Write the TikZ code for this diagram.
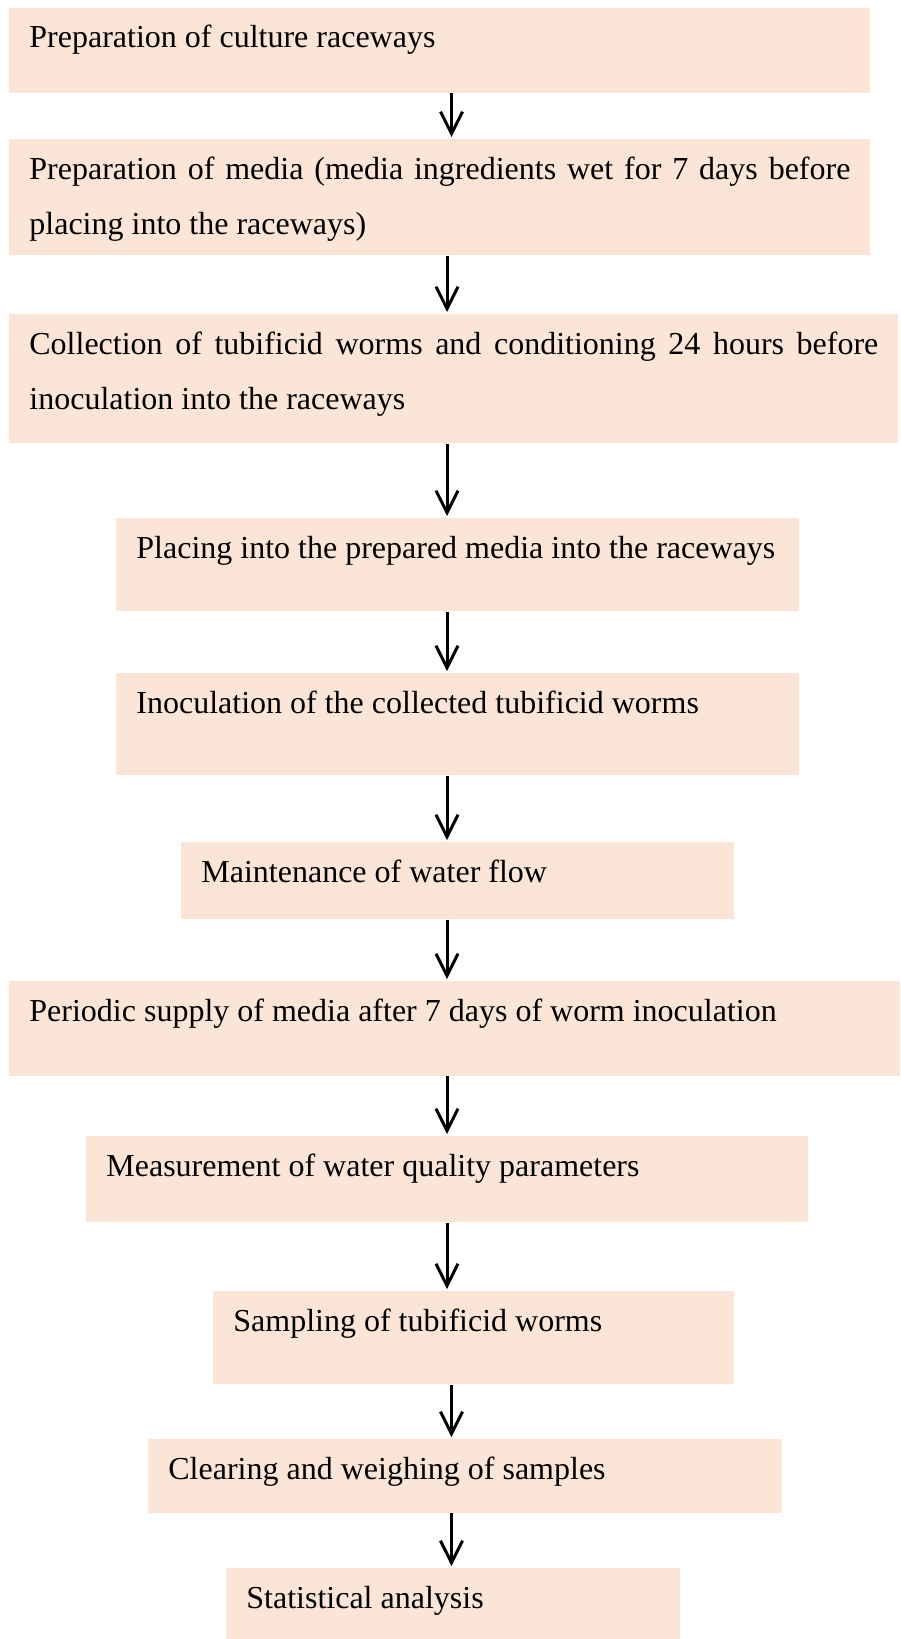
\documentclass[tikz,border=0pt]{standalone}
\usepackage{fontspec}
\setmainfont{Liberation Serif}
\usetikzlibrary{arrows.meta}
\definecolor{PeachFill}{HTML}{FBE5D6}
\tolerance=2000
\hyphenpenalty=10000
\exhyphenpenalty=10000

\begin{document}
\begin{tikzpicture}[
    x=0.5pt,y=-0.5pt,
    stage/.style={fill=PeachFill,anchor=north west,align=justify,
      inner xsep=10pt,inner ysep=0pt,text height=20pt,
      font={\fontsize{16}{27.5}\selectfont\hyphenpenalty=10000\relax}},
    flow/.style={-{Straight Barb[length=11pt,width=11pt]},line width=1.5pt,
      shorten >=1pt}
  ]
  \useasboundingbox (0,0) rectangle (900,1639);
  \coordinate (spine) at (447,0);
  \coordinate (spineR) at (451.5,0);

  \node[stage,text width=410.5pt,text depth=22.5pt] (raceways) at (9,7.5)
    {Preparation of culture raceways};
  \node[stage,text width=410.5pt,text depth=38pt] (media) at (9,139)
    {Preparation of media (media ingredients wet for 7 days before placing into the raceways)};
  \node[stage,text width=424.5pt,text depth=44.5pt] (collection) at (9,314)
    {Collection of tubificid worms and conditioning 24 hours before inoculation into the raceways};
  \node[stage,text width=321.5pt,text depth=26.5pt] (placing) at (116,518)
    {Placing into the prepared media into the raceways};
  \node[stage,text width=321.5pt,text depth=31pt] (inoculation) at (116,673)
    {Inoculation of the collected tubificid worms};
  \node[stage,text width=256.5pt,text depth=18.5pt] (waterflow) at (181,842)
    {Maintenance of water flow};
  \node[stage,text width=425.5pt,text depth=27.25pt] (supply) at (9,981)
    {Periodic supply of media after 7 days of worm inoculation};
  \node[stage,text width=341pt,text depth=23pt] (quality) at (86,1136)
    {Measurement of water quality parameters};
  \node[stage,text width=240.5pt,text depth=26.5pt] (sampling) at (213,1291)
    {Sampling of tubificid worms};
  \node[stage,text width=297pt,text depth=16.75pt] (weighing) at (148,1439)
    {Clearing and weighing of samples};
  \node[stage,text width=207pt,text depth=15.5pt] (analysis) at (226,1568)
    {Statistical analysis};

  \draw[flow] (raceways.south -| spineR) -- (media.north -| spineR);
  \draw[flow] (media.south -| spine) -- (collection.north -| spine);
  \draw[flow] (collection.south -| spine) -- (placing.north -| spine);
  \draw[flow] (placing.south -| spine) -- (inoculation.north -| spine);
  \draw[flow] (inoculation.south -| spine) -- (waterflow.north -| spine);
  \draw[flow] (waterflow.south -| spine) -- (supply.north -| spine);
  \draw[flow] (supply.south -| spine) -- (quality.north -| spine);
  \draw[flow] (quality.south -| spine) -- (sampling.north -| spine);
  \draw[flow] (sampling.south -| spineR) -- (weighing.north -| spineR);
  \draw[flow] (weighing.south -| spineR) -- (analysis.north -| spineR);
\end{tikzpicture}
\end{document}
